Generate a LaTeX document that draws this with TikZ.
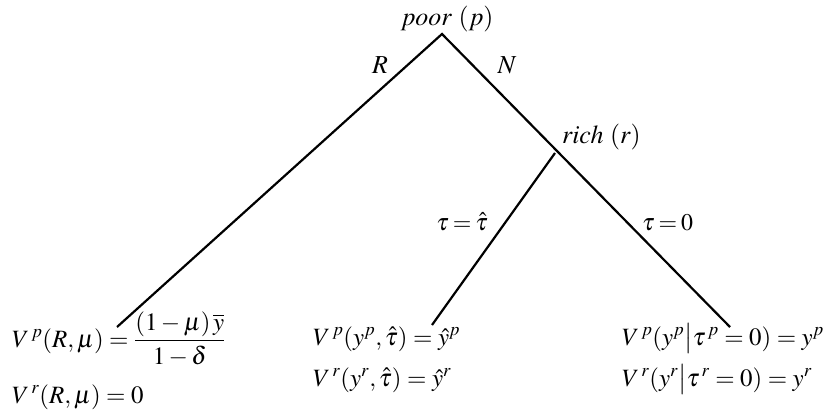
\documentclass[tikz,border=0pt]{standalone}
\usepackage{amsmath}
\usepackage{mathptmx}
\usepackage{fontspec}
\setmainfont{Liberation Serif}
\newcommand{\tightrel}{\thickmuskip=3mu\relax}
\begin{document}
\begin{tikzpicture}[x=1bp,y=-1bp,
  branch/.style={line width=2.2bp},
  lbl/.style={font=\fontsize{26}{30}\selectfont, inner sep=0pt},
  taulbl/.style={font=\fontsize{24}{29}\selectfont, inner sep=0pt},
  payoff/.style={font=\fontsize{25}{30}\selectfont, inner sep=0pt, anchor=base west}]
\useasboundingbox (0,0) rectangle (829,416);
\coordinate (root) at (442,34);
\coordinate (rich) at (555,153);
\coordinate (leafR) at (117,327);
\coordinate (leafT) at (432,325);
\coordinate (leafZ) at (730,327);
\draw[branch] (leafR) -- (root) -- (leafZ);
\draw[branch] (rich) -- (leafT);
\node[lbl, anchor=base] (poor) at (448,25) {$\mathit{poor}\ (p)$};
\node[lbl, anchor=base west] (richlbl) at (562,143) {$\mathit{rich}\ (r)$};
\node[lbl, anchor=base] (R) at (380,73) {$R$};
\node[lbl, anchor=base] (N) at (507,73) {$N$};
\node[taulbl, anchor=base east] (tauhat) at (488,230) {$\tightrel\tau=\hat\tau$};
\node[taulbl, anchor=base west] (tau0) at (642,230) {$\tightrel\tau=0$};
\node[payoff] (a1) at (12,347) {$V^{\,p}(R,\mu)=\dfrac{(1-\mu)\,\overline{y}}{1-\delta}$};
\node[payoff] (a2) at (12,403) {$V^{\,r}(R,\mu)=0$};
\node[payoff] (b1) at (313,345) {$V^{\,p}(y^p,\hat\tau)=\hat y^p$};
\node[payoff] (b2) at (313,386) {$V^{\,r}(y^r,\hat\tau)=\hat y^r$};
\node[payoff] (c1) at (622,345) {$V^{\,p}(y^p\big|\tau^{\,p}=0)=y^p$};
\node[payoff] (c2) at (622,386) {$V^{\,r}(y^r\big|\tau^{\,r}=0)=y^r$};
\end{tikzpicture}
\end{document}
